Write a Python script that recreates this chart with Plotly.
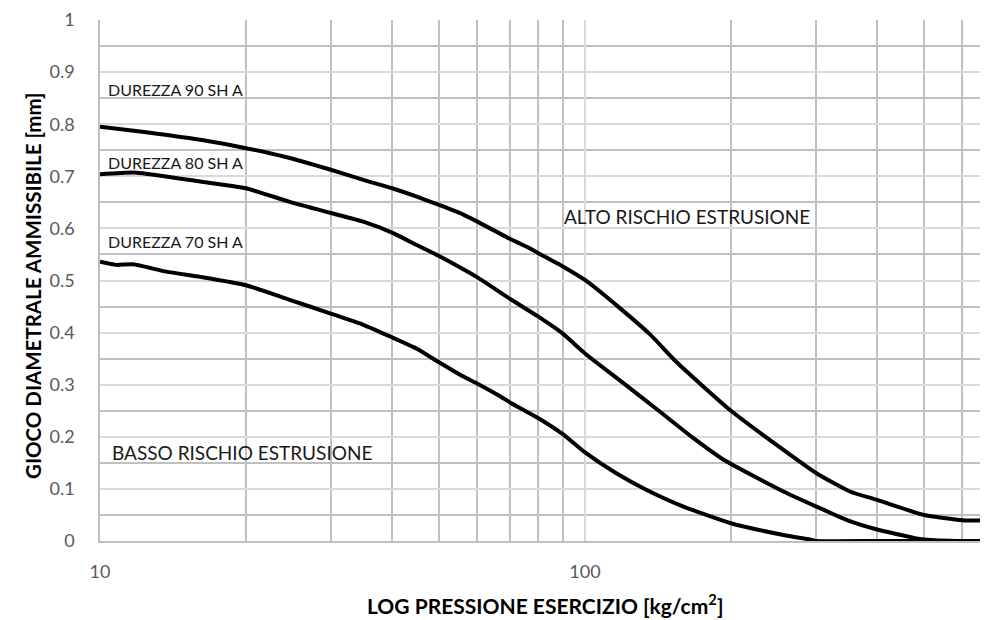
import plotly.graph_objects as go

# ---- data ----
p90 = [10, 12.1, 16.1, 20, 23.9, 29.8, 34.9, 40, 45, 50, 56, 60, 70, 76.9, 80, 90, 100, 118, 136, 154.6, 172.7, 200, 252, 300, 351.6, 400, 500, 600, 678]
g90 = [0.795, 0.786, 0.770, 0.754, 0.738, 0.713, 0.693, 0.677, 0.661, 0.645, 0.627, 0.613, 0.580, 0.562, 0.553, 0.527, 0.501, 0.447, 0.397, 0.343, 0.302, 0.250, 0.180, 0.130, 0.095, 0.079, 0.050, 0.040, 0.039]

p80 = [10, 11.9, 16.1, 20, 24.6, 29.8, 34.9, 40, 45, 50, 56, 60, 70, 80, 90, 100, 120, 142.8, 166, 194, 256.6, 300, 351.6, 400, 482, 500, 600, 678]
g80 = [0.704, 0.707, 0.690, 0.677, 0.651, 0.630, 0.613, 0.592, 0.568, 0.547, 0.522, 0.506, 0.465, 0.431, 0.398, 0.360, 0.303, 0.248, 0.200, 0.155, 0.095, 0.066, 0.038, 0.022, 0.005, 0.003, 0.0, 0.0]

p70 = [10, 10.8, 11.7, 13.7, 16.1, 20, 24.6, 29.8, 34.9, 40, 45, 50, 56, 60, 66.8, 70, 80, 90, 100, 116, 134, 159.6, 200, 256.6, 294, 300, 400, 500, 600, 678]
g70 = [0.536, 0.530, 0.531, 0.517, 0.507, 0.491, 0.463, 0.437, 0.415, 0.391, 0.369, 0.343, 0.316, 0.302, 0.278, 0.266, 0.236, 0.205, 0.170, 0.130, 0.098, 0.066, 0.034, 0.0115, 0.002, 0.0, 0.0, 0.0, 0.0, 0.0]

curve_labels = ["DUREZZA 90 SH A", "DUREZZA 80 SH A", "DUREZZA 70 SH A"]
x_title = "LOG PRESSIONE ESERCIZIO [kg/cm<sup>2</sup>]"
y_title = "GIOCO DIAMETRALE AMMISSIBILE [mm]"
zone_high = "ALTO RISCHIO ESTRUSIONE"
zone_low = "BASSO RISCHIO ESTRUSIONE"

FONT = "Lato, 'Open Sans', sans-serif"
OFF = 8  # page body margin in the browser
W, H = 988 - OFF, 620 - OFF
PL, PR, PT, PB = 100, 988, 20, 541   # plot area edges in screenshot pixels
L, T = PL - OFF, PT - OFF
R, B = (988 - OFF) - (PR - OFF), H - (PB - OFF)

fig = go.Figure()
for px_, gy in [(p90, g90), (p80, g80), (p70, g70)]:
    fig.add_trace(go.Scatter(x=px_, y=gy, mode="lines",
                             line=dict(color="black", width=4, shape="spline", smoothing=0.5),
                             showlegend=False, hoverinfo="skip"))

x_hi = 1 + (PR - PL) / 485.0

fig.update_xaxes(type="log", range=[1, x_hi], dtick=1,
                 showgrid=True, gridcolor="#d9d9d9", gridwidth=1.5,
                 minor=dict(dtick="D1", showgrid=True, gridcolor="#c0c0c0", gridwidth=1.5),
                 showline=True, linecolor="#bfbfbf", linewidth=1.5,
                 zeroline=False, ticks="", ticklabelstandoff=14,
                 tickfont=dict(family=FONT, size=18, color="#595959"))
fig.update_yaxes(range=[0, 1], dtick=0.1,
                 showgrid=True, gridcolor="#d9d9d9", gridwidth=1.5,
                 minor=dict(dtick=0.05, showgrid=True, gridcolor="#c0c0c0", gridwidth=1.5),
                 showline=True, linecolor="#bfbfbf", linewidth=1.5,
                 zeroline=False, ticks="", ticklabelstandoff=20,
                 tickfont=dict(family=FONT, size=18, color="#595959"))

def px_x(px):
    return (px - PL) / (PR - PL)

def px_y(py):
    return (PB - py) / (PB - PT)

annots = [
    (curve_labels[0], 106, 89, 16),
    (curve_labels[1], 106, 162, 16),
    (curve_labels[2], 106, 242, 16),
    (zone_high, 562, 217, 19),
    (zone_low, 110, 452, 19),
]
for text, ax_, ay_, fs in annots:
    fig.add_annotation(text=text, xref="paper", yref="paper", x=px_x(ax_), y=px_y(ay_),
                       xanchor="left", yanchor="middle", showarrow=False,
                       font=dict(family=FONT, size=fs, color="#1a1a1a"))

fig.add_annotation(text="<b>" + x_title + "</b>", xref="paper", yref="paper",
                   x=px_x(545), y=px_y(604), xanchor="center", yanchor="middle",
                   showarrow=False, font=dict(family=FONT, size=21, color="black"))
fig.add_annotation(text="<b>" + y_title + "</b>", xref="paper", yref="paper",
                   x=px_x(33), y=px_y(286), xanchor="center", yanchor="middle",
                   textangle=-90, showarrow=False,
                   font=dict(family=FONT, size=20.5, color="black"))

fig.update_layout(width=W, height=H,
                  margin=dict(l=L, r=R, t=T, b=B, autoexpand=False),
                  plot_bgcolor="white", paper_bgcolor="white",
                  font=dict(family=FONT))

fig.write_html("out.html")
